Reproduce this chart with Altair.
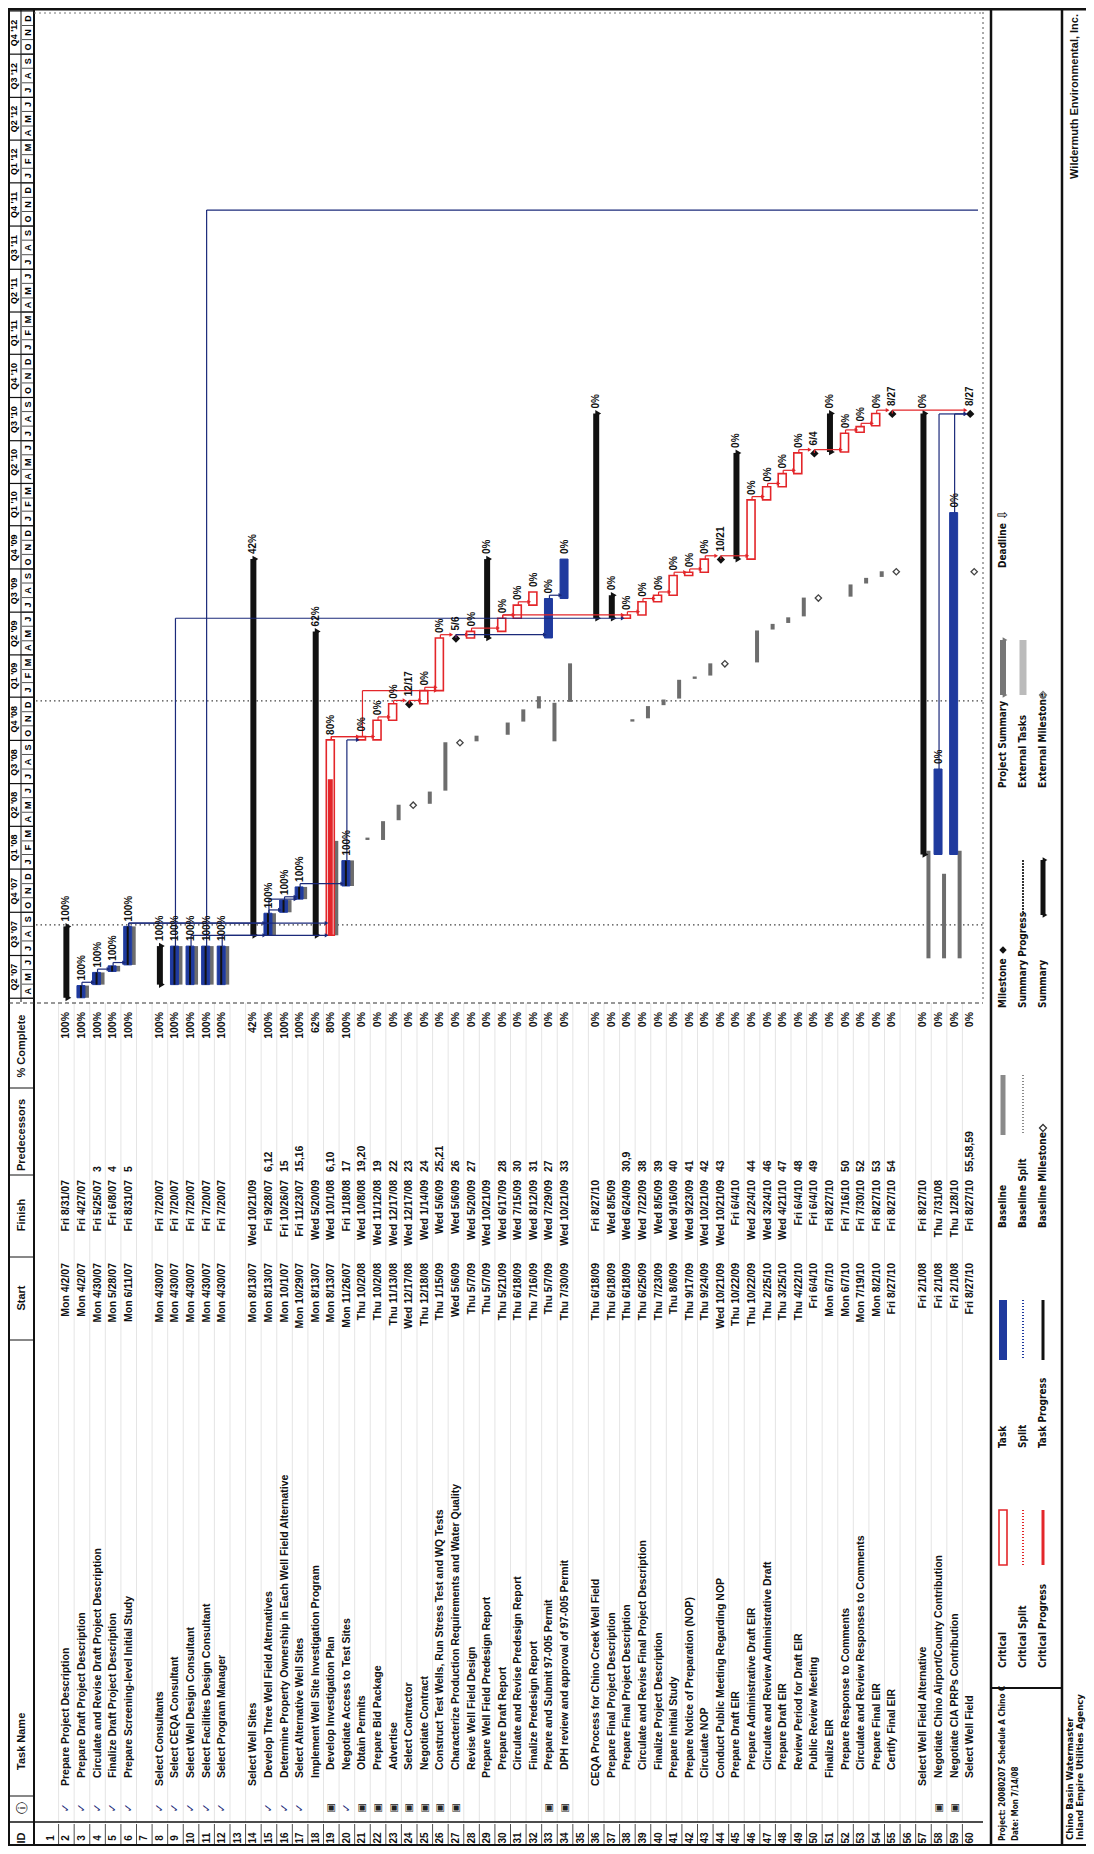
import altair as alt
import pandas as pd

# ---------------- data ----------------
ids = list(range(1, 61))
names = [
    "", "Prepare Project Description", "Prepare Draft Project Description",
    "Circulate and Revise Draft Project Description", "Finalize Draft Project Description",
    "Prepare Screening-level Initial Study", "", "Select Consultants", "Select CEQA Consultant",
    "Select Well Design Consultant", "Select Facilities Design Consultant", "Select Program Manager", "",
    "Select Well Sites", "Develop Three Well Field Alternatives",
    "Determine Property Ownership in Each Well Field Alternative", "Select Alternative Well Sites",
    "Implement Well Site Investigation Program", "Develop Investigation Plan",
    "Negotiate Access to Test Sites", "Obtain Permits", "Prepare Bid Package", "Advertise",
    "Select Contractor", "Negotiate Contract", "Construct Test Wells, Run Stress Test and WQ Tests",
    "Characterize Production Requirements and Water Quality", "Revise Well Field Design",
    "Prepare Well Field Predesign Report", "Prepare Draft Report", "Circulate and Revise Predesign Report",
    "Finalize Predesign Report", "Prepare and Submit 97-005 Permit", "DPH review and approval of 97-005 Permit",
    "", "CEQA Process for Chino Creek Well Field", "Prepare Final Project Description",
    "Prepare Final Project Description", "Circulate and Revise Final Project Description",
    "Finalize Project Description", "Prepare Initial Study", "Prepare Notice of Preparation (NOP)",
    "Circulate NOP", "Conduct Public Meeting Regarding NOP", "Prepare Draft EIR",
    "Prepare Administrative Draft EIR", "Circulate and Review Administrative Draft", "Prepare Draft EIR",
    "Review Period for Draft EIR", "Public Review Meeting", "Finalize EIR", "Prepare Response to Comments",
    "Circulate and Review Responses to Comments", "Prepare Final EIR", "Certify Final EIR", "",
    "Select Well Field Alternative", "Negotiate Chino Airport/County Contribution",
    "Negotiate CIA PRPs Contribution", "Select Well Field",
]
levels = [-1, 0, 1, 1, 1, 1, -1, 0, 1, 1, 1, 1, -1, 0, 1, 1, 1, 1, 2, 2, 2, 2, 2, 2, 2, 2, 2, 2,
          1, 2, 2, 2, 2, 2, -1, 0, 1, 2, 2, 2, 1, 1, 1, 1, 1, 2, 2, 2, 2, 2, 1, 2, 2, 2, 2, -1,
          0, 1, 1, 1]
starts = [
    "", "Mon 4/2/07", "Mon 4/2/07", "Mon 4/30/07", "Mon 5/28/07", "Mon 6/11/07", "",
    "Mon 4/30/07", "Mon 4/30/07", "Mon 4/30/07", "Mon 4/30/07", "Mon 4/30/07", "",
    "Mon 8/13/07", "Mon 8/13/07", "Mon 10/1/07", "Mon 10/29/07", "Mon 8/13/07", "Mon 8/13/07",
    "Mon 11/26/07", "Thu 10/2/08", "Thu 10/2/08", "Thu 11/13/08", "Wed 12/17/08", "Thu 12/18/08",
    "Thu 1/15/09", "Wed 5/6/09", "Thu 5/7/09", "Thu 5/7/09", "Thu 5/21/09", "Thu 6/18/09",
    "Thu 7/16/09", "Thu 5/7/09", "Thu 7/30/09", "", "Thu 6/18/09", "Thu 6/18/09", "Thu 6/18/09",
    "Thu 6/25/09", "Thu 7/23/09", "Thu 8/6/09", "Thu 9/17/09", "Thu 9/24/09", "Wed 10/21/09",
    "Thu 10/22/09", "Thu 10/22/09", "Thu 2/25/10", "Thu 3/25/10", "Thu 4/22/10", "Fri 6/4/10",
    "Mon 6/7/10", "Mon 6/7/10", "Mon 7/19/10", "Mon 8/2/10", "Fri 8/27/10", "",
    "Fri 2/1/08", "Fri 2/1/08", "Fri 2/1/08", "Fri 8/27/10",
]
finishes = [
    "", "Fri 8/31/07", "Fri 4/27/07", "Fri 5/25/07", "Fri 6/8/07", "Fri 8/31/07", "",
    "Fri 7/20/07", "Fri 7/20/07", "Fri 7/20/07", "Fri 7/20/07", "Fri 7/20/07", "",
    "Wed 10/21/09", "Fri 9/28/07", "Fri 10/26/07", "Fri 11/23/07", "Wed 5/20/09", "Wed 10/1/08",
    "Fri 1/18/08", "Wed 10/8/08", "Wed 11/12/08", "Wed 12/17/08", "Wed 12/17/08", "Wed 1/14/09",
    "Wed 5/6/09", "Wed 5/6/09", "Wed 5/20/09", "Wed 10/21/09", "Wed 6/17/09", "Wed 7/15/09",
    "Wed 8/12/09", "Wed 7/29/09", "Wed 10/21/09", "", "Fri 8/27/10", "Wed 8/5/09", "Wed 6/24/09",
    "Wed 7/22/09", "Wed 8/5/09", "Wed 9/16/09", "Wed 9/23/09", "Wed 10/21/09", "Wed 10/21/09",
    "Fri 6/4/10", "Wed 2/24/10", "Wed 3/24/10", "Wed 4/21/10", "Fri 6/4/10", "Fri 6/4/10",
    "Fri 8/27/10", "Fri 7/16/10", "Fri 7/30/10", "Fri 8/27/10", "Fri 8/27/10", "",
    "Fri 8/27/10", "Thu 7/31/08", "Thu 1/28/10", "Fri 8/27/10",
]
preds = [
    "", "", "", "3", "4", "5", "", "", "", "", "", "", "", "", "6,12", "15", "15,16", "",
    "6,10", "17", "19,20", "19", "22", "23", "24", "25,21", "26", "27", "", "28", "30", "31",
    "27", "33", "", "", "", "30,9", "38", "39", "40", "41", "42", "43", "", "44", "46", "47",
    "48", "49", "", "50", "52", "53", "54", "", "", "", "", "55,58,59",
]
pcts = [
    "", "100%", "100%", "100%", "100%", "100%", "", "100%", "100%", "100%", "100%", "100%", "",
    "42%", "100%", "100%", "100%", "62%", "80%", "100%", "0%", "0%", "0%", "0%", "0%", "0%", "0%",
    "0%", "0%", "0%", "0%", "0%", "0%", "0%", "", "0%", "0%", "0%", "0%", "0%", "0%", "0%", "0%",
    "0%", "0%", "0%", "0%", "0%", "0%", "0%", "0%", "0%", "0%", "0%", "0%", "", "0%", "0%", "0%", "0%",
]
summary_rows = [2, 8, 14, 18, 29, 36, 37, 45, 51, 57]
milestone_rows = [24, 27, 44, 50, 55, 60]
done_rows = [3, 4, 5, 6, 9, 10, 11, 12, 15, 16, 17, 20]
blue_rows = [33, 34, 58, 59]
indicator_check = [2, 3, 4, 5, 6, 8, 9, 10, 11, 12, 15, 16, 17, 20]
indicator_note = [19, 21, 22, 23, 24, 25, 26, 27, 33, 34, 58, 59]
offpage_link = {"row": 11, "date": "2011-11-04"}

# baseline (original plan)
base_rows = [19, 20, 21, 22, 23, 24, 25, 26, 27, 28, 30, 31, 32, 33, 34, 38, 39, 40, 41, 42, 43, 44,
             46, 47, 48, 49, 50, 52, 53, 54, 55, 57, 58, 59, 60]
base_start = ["2007-08-13", "2007-11-26", "2008-03-03", "2008-03-03", "2008-04-14", "2008-05-16",
              "2008-05-19", "2008-06-16", "2008-09-26", "2008-09-29", "2008-10-13", "2008-11-10",
              "2008-12-08", "2008-09-29", "2008-12-22", "2008-11-10", "2008-11-17", "2008-12-15",
              "2008-12-29", "2009-02-09", "2009-02-16", "2009-03-13", "2009-03-16", "2009-05-25",
              "2009-06-08", "2009-06-22", "2009-07-31", "2009-08-03", "2009-08-31", "2009-09-14",
              "2009-09-25", "2007-06-25", "2007-06-25", "2007-06-25", "2009-09-25"]
base_finish = ["2008-02-29", "2008-01-18", "2008-03-07", "2008-04-11", "2008-05-16", "2008-05-16",
               "2008-06-13", "2008-09-26", "2008-09-26", "2008-10-10", "2008-11-07", "2008-12-05",
               "2009-01-02", "2008-12-19", "2009-03-13", "2008-11-14", "2008-12-12", "2008-12-26",
               "2009-02-06", "2009-02-13", "2009-03-13", "2009-03-13", "2009-05-22", "2009-06-05",
               "2009-06-19", "2009-07-31", "2009-07-31", "2009-08-28", "2009-09-11", "2009-09-25",
               "2009-09-25", "2008-02-08", "2007-12-21", "2008-02-08", "2009-09-25"]
date_lines = ["2007-09-04", "2008-12-24"]

month_letters = ["J", "F", "M", "A", "M", "J", "J", "A", "S", "O", "N", "D"]

legend_cols = [
    ["Critical", "Critical Split", "Critical Progress"],
    ["Task", "Split", "Task Progress"],
    ["Baseline", "Baseline Split", "Baseline Milestone"],
    ["Milestone", "Summary Progress", "Summary"],
    ["Project Summary", "External Tasks", "External Milestone"],
    ["Deadline", "", ""],
]

# ---------------- helpers ----------------
W, H = 1078, 1838
FONT = "Liberation Sans"
NARROW = "Liberation Sans Narrow, DejaVu Sans Condensed, Liberation Sans"
RED = "#e3262a"
BLUE = "#1f3a9e"
NAVY = "#1b2a7a"
GRAY = "#8a8a8a"


def P(v):
    return v - 8


XS = alt.Scale(domain=[0.5, 60.5], range=[P(38), P(983)])
YS = alt.Scale(domain=[alt.DateTime(year=2007, month=3, date=24),
                       alt.DateTime(year=2013, month=1, date=3)],
               range=[P(1002), P(10)])


def to_date(s):
    return pd.to_datetime(s.split(" ")[1], format="%m/%d/%y").strftime("%Y-%m-%d")


def plus1(s):
    return (pd.to_datetime(s) + pd.Timedelta(days=1)).strftime("%Y-%m-%d")


tasks = pd.DataFrame({"row": ids, "name": names, "level": levels, "start_s": starts,
                      "finish_s": finishes, "pred": preds, "pct": pcts})
real = tasks[tasks["start_s"] != ""].copy()
real["start"] = real["start_s"].map(to_date)
real["finish"] = real["finish_s"].map(to_date)
real["finish_end"] = real["finish"].map(plus1)
real["pval"] = real["pct"].str.rstrip("%").astype(float) / 100.0
real["prog_end"] = (pd.to_datetime(real["start"]) +
                    (pd.to_datetime(real["finish_end"]) - pd.to_datetime(real["start"])) * real["pval"]
                    ).dt.strftime("%Y-%m-%d")

X = alt.X("row:Q", scale=XS, axis=None)


def Y(f):
    return alt.Y(f + ":T", scale=YS, axis=None)


def Y2(f):
    return alt.Y2(f + ":T")


layers = []

# ---------------- table text ----------------
txt = dict(angle=270, baseline="middle", font=FONT, fontWeight="bold", fontSize=10.5, color="#111")

for lv, ypos in [(0, 1786), (1, 1778), (2, 1770)]:
    d = tasks[tasks["level"] == lv]
    layers.append(alt.Chart(d).mark_text(align="left", **txt).encode(x=X, y=alt.value(P(ypos)), text="name:N"))

layers.append(alt.Chart(tasks).mark_text(align="center", **{**txt, "fontSize": 10}).encode(
    x=X, y=alt.value(P(1838)), text="row:N"))
layers.append(alt.Chart(real).mark_text(align="right", **txt).encode(x=X, y=alt.value(P(1263)), text="start_s:N"))
layers.append(alt.Chart(real).mark_text(align="right", **txt).encode(x=X, y=alt.value(P(1180)), text="finish_s:N"))
layers.append(alt.Chart(real).mark_text(align="left", **txt).encode(x=X, y=alt.value(P(1172)), text="pred:N"))
layers.append(alt.Chart(real).mark_text(align="right", **txt).encode(x=X, y=alt.value(P(1012)), text="pct:N"))

ind1 = pd.DataFrame({"row": indicator_check, "t": ["\u2713"] * len(indicator_check)})
ind2 = pd.DataFrame({"row": indicator_note, "t": ["\u25a3"] * len(indicator_note)})
layers.append(alt.Chart(ind1).mark_text(angle=270, font="DejaVu Sans", fontSize=11, color=NAVY, fontWeight="bold").encode(
    x=X, y=alt.value(P(1808)), text="t:N"))
layers.append(alt.Chart(ind2).mark_text(angle=270, font="DejaVu Sans", fontSize=10, color="#222").encode(
    x=X, y=alt.value(P(1808)), text="t:N"))

sep = pd.DataFrame({"row": [r + 0.5 for r in ids[:-1]]})
layers.append(alt.Chart(sep).mark_rule(color="#222", strokeWidth=0.8).encode(
    x=X, y=alt.value(P(1824)), y2=alt.value(P(1845))))
layers.append(alt.Chart(sep).mark_rule(color="#d4d4d4", strokeWidth=0.6).encode(
    x=X, y=alt.value(P(1003)), y2=alt.value(P(1822))))

hdr = pd.DataFrame({"t": ["ID", "Task Name", "Start", "Finish", "Predecessors", "% Complete"],
                    "yy": [1838, 1770, 1298, 1215, 1135, 1046],
                    "al": ["center", "left", "center", "center", "center", "center"]})
for _, r in hdr.iterrows():
    layers.append(alt.Chart(pd.DataFrame({"t": [r["t"]]})).mark_text(
        align=r["al"], **{**txt, "fontSize": 11}).encode(
        x=alt.value(P(22)), y=alt.value(P(r["yy"])), text="t:N"))
layers.append(alt.Chart(pd.DataFrame({"t": ["\u24d8"]})).mark_text(angle=270, font="DejaVu Sans", fontSize=12).encode(
    x=alt.value(P(22)), y=alt.value(P(1808)), text="t:N"))

# ---------------- time scale header ----------------
months = pd.date_range("2007-03-01", "2012-12-01", freq="MS")
mdf = pd.DataFrame({"m0": months.strftime("%Y-%m-%d"),
                    "mid": (months + pd.Timedelta(days=15)).strftime("%Y-%m-%d"),
                    "t": [month_letters[m.month - 1] for m in months]})
mdf = mdf[mdf["mid"] > "2007-03-26"]
layers.append(alt.Chart(mdf).mark_text(angle=270, baseline="middle", align="center", font=FONT,
                                       fontWeight="bold", fontSize=9).encode(
    x=alt.value(P(28)), y=Y("mid"), text="t:N"))
layers.append(alt.Chart(mdf).mark_rule(color="#222", strokeWidth=0.8).encode(
    x=alt.value(P(22)), x2=alt.value(P(34)), y=Y("m0")))

qs = pd.date_range("2007-04-01", "2013-01-01", freq="QS")
qdf = pd.DataFrame({"q0": qs.strftime("%Y-%m-%d"),
                    "mid": (qs + pd.Timedelta(days=45)).strftime("%Y-%m-%d"),
                    "t": ["Q%d '%02d" % ((q.month - 1) // 3 + 1, q.year % 100) for q in qs]})
layers.append(alt.Chart(qdf[qdf["mid"] < "2013-01-01"]).mark_text(
    angle=270, baseline="middle", align="center", font=FONT, fontWeight="bold", fontSize=9).encode(
    x=alt.value(P(14)), y=Y("mid"), text="t:N"))
layers.append(alt.Chart(qdf).mark_rule(color="#111", strokeWidth=1.2).encode(
    x=alt.value(P(8)), x2=alt.value(P(34)), y=Y("q0")))


def hline(y, x1, x2, w=1.0, c="#111", dash=None):
    kw = dict(color=c, strokeWidth=w)
    if dash:
        kw["strokeDash"] = dash
    return alt.Chart(pd.DataFrame({"a": [0]})).mark_rule(**kw).encode(
        y=alt.value(P(y)), x=alt.value(P(x1)), x2=alt.value(P(x2)))


def vline(x, y1, y2, w=1.0, c="#111", dash=None):
    kw = dict(color=c, strokeWidth=w)
    if dash:
        kw["strokeDash"] = dash
    return alt.Chart(pd.DataFrame({"a": [0]})).mark_rule(**kw).encode(
        x=alt.value(P(x)), y=alt.value(P(y1)), y2=alt.value(P(y2)))


layers += [
    hline(9, 8, 1086, 3), hline(1845, 8, 1086, 2),
    vline(9, 9, 1845, 2), vline(34, 9, 1845, 2), vline(21, 9, 1002, 1),
    vline(991, 9, 1845, 2.5), vline(1062, 9, 1845, 2.5),
    vline(983, 12, 1002, 1, "#555", [2, 3]),
    hline(13, 34, 983, 1, "#777", [2, 3]),
    hline(1003, 9, 983, 1.2, "#333", [4, 3]),
    hline(1088, 9, 34, 1), hline(1175, 9, 34, 1), hline(1257, 9, 34, 1),
    hline(1340, 9, 34, 1), hline(1796, 9, 34, 1), hline(1822, 9, 983, 1.5),
    hline(1688, 991, 1062, 2),
]

dl = pd.DataFrame({"d": date_lines})
layers.append(alt.Chart(dl).mark_rule(color="#444", strokeWidth=1.2, strokeDash=[1.5, 3]).encode(
    y=Y("d"), x=alt.value(P(36)), x2=alt.value(P(983))))

# ---------------- gantt ----------------
summ = real[real["row"].isin(summary_rows)]
mile = real[real["row"].isin(milestone_rows)]
done = real[real["row"].isin(done_rows)]
blue = real[real["row"].isin(blue_rows)]
crit = real[~real["row"].isin(summary_rows + milestone_rows + done_rows + blue_rows)]

bl = pd.DataFrame({"row": base_rows, "bs": base_start, "bf": base_finish})
bl["bf_end"] = bl["bf"].map(plus1)
bl_bar = pd.concat([bl[bl["bs"] != bl["bf"]],
                    done.rename(columns={"start": "bs", "finish_end": "bf_end"})[["row", "bs", "bf_end"]]])
bl_ms = bl[bl["bs"] == bl["bf"]]
layers.append(alt.Chart(bl_bar).mark_bar(size=4, color="#6d6d6d").encode(
    x=X, y=Y("bs"), y2=Y2("bf_end"), xOffset=alt.value(5)))
layers.append(alt.Chart(bl_ms).mark_point(shape="diamond", filled=False, size=40, color="#444",
                                          strokeWidth=1.3, opacity=1).encode(
    x=X, y=Y("bs"), xOffset=alt.value(4)))

layers.append(alt.Chart(summ).mark_bar(size=6, color="#111").encode(x=X, y=Y("start"), y2=Y2("finish_end")))
for f in ["start", "finish_end"]:
    layers.append(alt.Chart(summ).mark_point(shape="triangle-right", filled=True, size=45, color="#111", opacity=1).encode(
        x=X, y=Y(f), xOffset=alt.value(2)))

layers.append(alt.Chart(done).mark_bar(size=8, color=BLUE, stroke=BLUE).encode(
    x=X, y=Y("start"), y2=Y2("finish_end"), xOffset=alt.value(-1)))
layers.append(alt.Chart(blue).mark_bar(size=8, color=BLUE, stroke=BLUE).encode(
    x=X, y=Y("start"), y2=Y2("finish_end"), xOffset=alt.value(-1)))
layers.append(alt.Chart(crit).mark_bar(size=8, fill="#ffffff", stroke=RED, strokeWidth=1.6).encode(
    x=X, y=Y("start"), y2=Y2("finish_end"), xOffset=alt.value(-1)))
prog = real[(real["pval"] > 0) & ~real["row"].isin(summary_rows)]
prog_c = prog[prog["row"].isin(crit["row"])]
prog_b = prog[~prog["row"].isin(crit["row"])]
layers.append(alt.Chart(prog_c).mark_bar(size=5, color=RED).encode(
    x=X, y=Y("start"), y2=Y2("prog_end"), xOffset=alt.value(-1)))
layers.append(alt.Chart(prog_b).mark_bar(size=2, color="#111").encode(
    x=X, y=Y("start"), y2=Y2("prog_end"), xOffset=alt.value(-1)))

layers.append(alt.Chart(mile).mark_point(shape="diamond", filled=True, size=70, color="#111", opacity=1).encode(
    x=X, y=Y("start")))

pairs = []
for _, r in real.iterrows():
    if r["pred"]:
        for p in r["pred"].split(","):
            pairs.append((int(p), int(r["row"])))
rowinfo = real.set_index("row")
crit_set = set(crit["row"]) | set(milestone_rows)
lk = []
for p, s in pairs:
    fp = pd.to_datetime(rowinfo.loc[p, "finish_end"])
    ss = pd.to_datetime(rowinfo.loc[s, "start"])
    corner = max(fp + pd.Timedelta(days=7), ss)
    col = RED if (p in crit_set and s in crit_set) else NAVY
    lk.append({"p": p, "s": s, "fp": fp.strftime("%Y-%m-%d"), "corner": corner.strftime("%Y-%m-%d"),
               "col": col, "sx": s - 0.3})
r11 = offpage_link["row"]
lk.append({"p": r11, "s": 60.5, "fp": rowinfo.loc[r11, "finish_end"], "corner": offpage_link["date"],
           "col": NAVY, "sx": 60.5})
lk = pd.DataFrame(lk)
layers.append(alt.Chart(lk).mark_rule(strokeWidth=1.2).encode(
    x=alt.X("p:Q", scale=XS, axis=None), y=Y("fp"), y2=Y2("corner"),
    color=alt.Color("col:N", scale=None)))
layers.append(alt.Chart(lk).mark_rule(strokeWidth=1.2).encode(
    x=alt.X("p:Q", scale=XS, axis=None), x2=alt.X2("sx:Q"), y=Y("corner"),
    color=alt.Color("col:N", scale=None)))
layers.append(alt.Chart(lk[lk["s"] <= 60]).mark_point(shape="triangle-right", filled=True, size=18, opacity=1).encode(
    x=alt.X("sx:Q", scale=XS, axis=None), y=Y("corner"), color=alt.Color("col:N", scale=None)))

lab = real[~real["row"].isin(milestone_rows)]
layers.append(alt.Chart(lab).mark_text(align="left", **{**txt, "fontSize": 10}).encode(
    x=X, y=Y("finish_end"), text="pct:N", yOffset=alt.value(-5)))
mlab = mile.assign(lbl=mile["start_s"].str.split(" ").str[1].str.rsplit("/", n=1).str[0])
layers.append(alt.Chart(mlab).mark_text(align="left", **{**txt, "fontSize": 10}).encode(
    x=X, y=Y("start"), text="lbl:N", yOffset=alt.value(-8)))

# ---------------- footer / legend ----------------
leg_x = [1003, 1023, 1043]
leg_y = [1668, 1448, 1228, 1008, 788, 568]
for ci, col in enumerate(legend_cols):
    d = pd.DataFrame({"t": col, "xx": [P(v) for v in leg_x]})
    d = d[d["t"] != ""]
    layers.append(alt.Chart(d).mark_text(align="left", angle=270, baseline="middle", font=NARROW,
                                         fontWeight="bold", fontSize=10, color="#111").encode(
        x=alt.X("xx:Q", scale=None), y=alt.value(P(leg_y[ci])), text="t:N"))


def seg(x, y1, y2, **kw):
    return alt.Chart(pd.DataFrame({"a": [0]})).mark_rule(**kw).encode(
        x=alt.value(P(x)), y=alt.value(P(y1)), y2=alt.value(P(y2)))


def box(x, y1, y2, w, **kw):
    return alt.Chart(pd.DataFrame({"a": [0]})).mark_rect(**kw).encode(
        x=alt.value(P(x - w / 2)), x2=alt.value(P(x + w / 2)), y=alt.value(P(y1)), y2=alt.value(P(y2)))


def glyph(x, y, shape, **kw):
    return alt.Chart(pd.DataFrame({"a": [0]})).mark_point(shape=shape, opacity=1, **kw).encode(
        x=alt.value(P(x)), y=alt.value(P(y)))


sw = []
a0, a1 = 1510, 1565
sw += [box(1003, a0, a1, 8, fill="white", stroke=RED, strokeWidth=1.6),
       seg(1023, a0, a1, color=RED, strokeWidth=2, strokeDash=[1, 2]),
       box(1043, a0, a1, 3, fill=RED)]
b0, b1 = 1300, 1360
sw += [box(1003, b0, b1, 8, fill=BLUE),
       seg(1023, b0, b1, color=BLUE, strokeWidth=2, strokeDash=[1, 2]),
       box(1043, b0, b1, 3, fill="#111")]
c0, c1 = 1075, 1135
sw += [box(1003, c0, c1, 5, fill=GRAY),
       seg(1023, c0, c1, color=GRAY, strokeWidth=2, strokeDash=[1, 2]),
       glyph(1043, 1128, "diamond", size=50, filled=False, color="#333", strokeWidth=1.2)]
sw += [glyph(1003, 950, "diamond", size=55, filled=True, color="#111"),
       seg(1023, 860, 915, color="#333", strokeWidth=2, strokeDash=[2, 1]),
       box(1043, 860, 915, 5, fill="#111"),
       glyph(1045, 860, "triangle-right", size=30, filled=True, color="#111"),
       glyph(1045, 915, "triangle-right", size=30, filled=True, color="#111")]
sw += [box(1003, 640, 695, 6, fill="#777"),
       glyph(1005, 640, "triangle-right", size=30, filled=True, color="#777"),
       glyph(1005, 695, "triangle-right", size=30, filled=True, color="#777"),
       box(1023, 640, 695, 7, fill="#bbbbbb"),
       glyph(1043, 695, "diamond", size=50, filled=False, color="#777", strokeWidth=1.2)]
layers += sw
layers.append(alt.Chart(pd.DataFrame({"t": ["\u21e9"]})).mark_text(angle=270, font="DejaVu Sans", fontSize=13).encode(
    x=alt.value(P(1003)), y=alt.value(P(515)), text="t:N"))

footer = pd.DataFrame({"t": ["Project: 20080207 Schedule A Chino C", "Date: Mon 7/14/08"],
                       "xx": [P(1003), P(1016)]})
layers.append(alt.Chart(footer).mark_text(align="left", angle=270, baseline="middle", font=NARROW,
                                          fontWeight="bold", fontSize=8, color="#111").encode(
    x=alt.X("xx:Q", scale=None), y=alt.value(P(1841)), text="t:N"))
org = pd.DataFrame({"t": ["Chino Basin Watermaster", "Inland Empire Utilities Agency"],
                    "xx": [P(1070), P(1080)]})
layers.append(alt.Chart(org).mark_text(align="left", angle=270, baseline="middle", font=NARROW,
                                       fontWeight="bold", fontSize=9.5, color="#111").encode(
    x=alt.X("xx:Q", scale=None), y=alt.value(P(1840)), text="t:N"))
layers.append(alt.Chart(pd.DataFrame({"t": ["Wildermuth Environmental, Inc."]})).mark_text(
    align="right", **{**txt, "fontSize": 11}).encode(x=alt.value(P(1075)), y=alt.value(P(14)), text="t:N"))

chart = alt.layer(*layers).properties(
    width=W, height=H, autosize=alt.AutoSizeParams(type="none"), padding=0,
    background="white",
).configure_view(stroke=None)

chart.save("out.html", embed_options={"renderer": "svg", "actions": False})
